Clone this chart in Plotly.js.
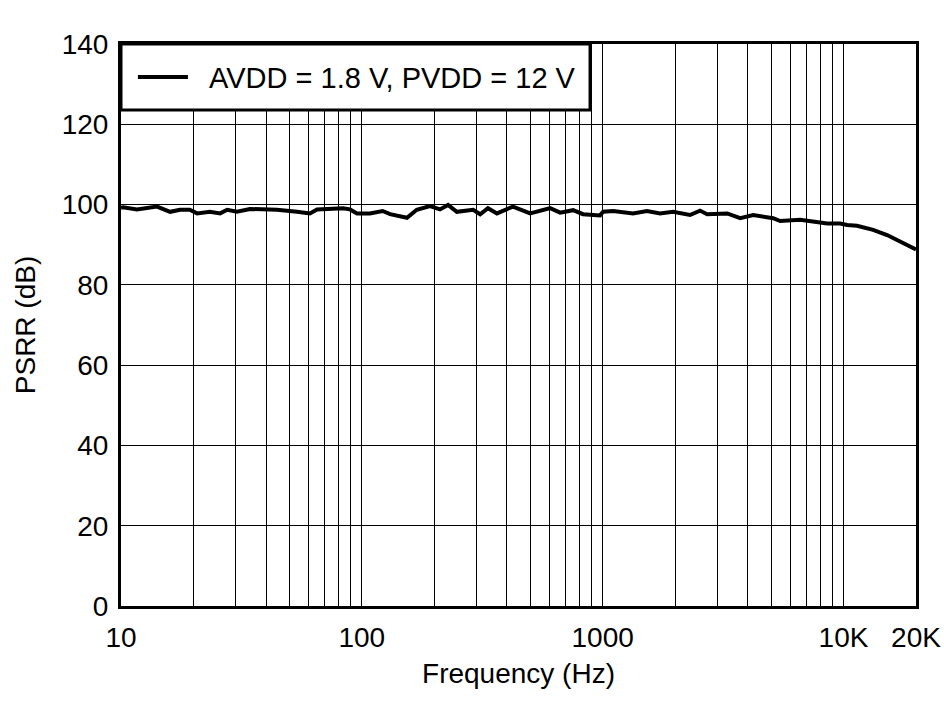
<!DOCTYPE html>
<html>
<head>
<meta charset="utf-8">
<script src="https://cdn.plot.ly/plotly-3.0.1.min.js"></script>
<style>html,body{margin:0;padding:0;background:#fff;}#chart{width:944px;height:701px;}</style>
</head>
<body>
<div id="chart"></div>
<script>
const seriesName = "AVDD = 1.8 V, PVDD = 12 V";
const freqHz = [10, 10.2, 11.65, 14.1, 16.0, 17.6, 19.3, 20.7, 23.4, 25.8, 27.6, 30.3, 34.3, 38.9, 44.4, 53.8, 60.9, 65.2, 83.6, 89.3, 95.5, 108, 122, 131, 154, 169, 192, 211, 228, 248, 290, 310, 334, 364, 424, 500, 605, 666, 754, 829, 975, 1005, 1105, 1337, 1528, 1730, 1960, 2305, 2536, 2715, 3289, 3724, 4217, 5105, 5460, 6610, 7482, 8550, 9685, 10350, 11380, 13270, 15170, 17180, 19450, 20000];
const psrrDb = [99.2, 99.3, 98.8, 99.5, 98.2, 98.7, 98.7, 97.8, 98.2, 97.8, 98.7, 98.2, 98.9, 98.8, 98.7, 98.2, 97.8, 98.8, 99.1, 98.8, 97.8, 97.8, 98.4, 97.6, 96.7, 98.7, 99.6, 98.8, 99.9, 98.2, 98.7, 97.6, 99.1, 97.8, 99.5, 97.8, 99.1, 98.0, 98.6, 97.6, 97.3, 98.2, 98.4, 97.8, 98.4, 97.8, 98.2, 97.4, 98.5, 97.6, 97.8, 96.6, 97.4, 96.6, 95.9, 96.2, 95.7, 95.3, 95.3, 94.9, 94.7, 93.7, 92.4, 90.8, 89.1, 88.8];
const xTickVals = [10,20,30,40,50,60,70,80,90,100,200,300,400,500,600,700,800,900,1000,2000,3000,4000,5000,6000,7000,8000,9000,10000,20000];
const xTickText = ["10","","","","","","","","","100","","","","","","","","","1000","","","","","","","","","10K","20K"];
const yTickVals = [0,20,40,60,80,100,120,140];

const font = {family: "Liberation Sans, Arial, sans-serif", size: 28, color: "#000"};

Plotly.newPlot("chart", [{
  x: freqHz, y: psrrDb, type: "scatter", mode: "lines", name: "\u00a0\u00a0" + seriesName,
  line: {color: "#000", width: 4}
}], {
  width: 944, height: 701,
  margin: {l: 121, r: 28, t: 44, b: 95, pad: 0},
  paper_bgcolor: "#fff", plot_bgcolor: "#fff",
  font: font,
  showlegend: true,
  legend: {x: 0.015, y: 0.941, xanchor: "left", yanchor: "middle", bgcolor: "rgba(0,0,0,0)", borderwidth: 0,
           font: {family: font.family, size: 29, color: "#000"}, itemwidth: 50},
  shapes: [{type: "rect", xref: "paper", yref: "paper", x0: 0, x1: 0.59, y0: 0.8826, y1: 1,
            layer: "above", fillcolor: "#fff", line: {color: "#000", width: 3}}],
  xaxis: {
    type: "log", range: [1, Math.log10(20000)],
    tickmode: "array", tickvals: xTickVals, ticktext: xTickText,
    showgrid: true, gridcolor: "#000", gridwidth: 1,
    showline: true, linecolor: "#000", linewidth: 3, mirror: true,
    ticks: "", ticklabelstandoff: 4,
    tickfont: font, zeroline: false,
    title: {text: "Frequency (Hz)", font: font, standoff: 12}
  },
  yaxis: {
    range: [0, 140], tickmode: "array", tickvals: yTickVals,
    showgrid: true, gridcolor: "#000", gridwidth: 1,
    showline: true, linecolor: "#000", linewidth: 3, mirror: true,
    ticks: "", ticklabelstandoff: 4, zeroline: false,
    tickfont: font,
    title: {text: "PSRR (dB)", font: font, standoff: 18}
  }
}, {displayModeBar: false, staticPlot: true});
</script>
</body>
</html>
